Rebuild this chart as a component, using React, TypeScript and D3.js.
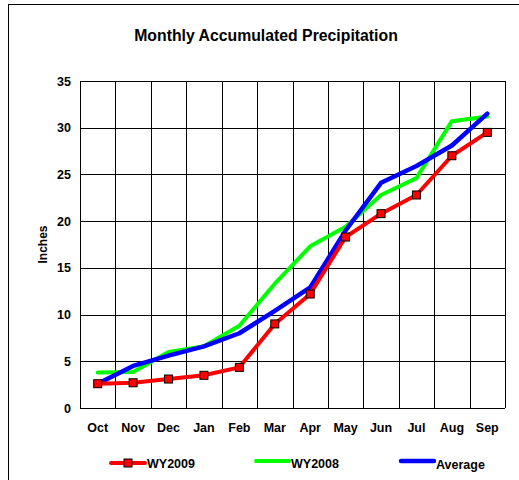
import React from "react";
import * as d3 from "d3";

const WIDTH = 519;
const HEIGHT = 480;

const months = ["Oct", "Nov", "Dec", "Jan", "Feb", "Mar", "Apr", "May", "Jun", "Jul", "Aug", "Sep"];
const wy2009 = [2.6, 2.7, 3.1, 3.5, 4.35, 9.0, 12.2, 18.3, 20.8, 22.8, 27.0, 29.5];
const wy2008 = [3.8, 3.85, 6.0, 6.6, 8.8, 13.3, 17.3, 19.4, 22.8, 24.6, 30.7, 31.2];
const average = [2.6, 4.5, 5.6, 6.6, 8.0, 10.4, 12.9, 19.0, 24.1, 25.9, 28.1, 31.5];
const yTicks = [0, 5, 10, 15, 20, 25, 30, 35];

const FONT = "'Liberation Sans', Arial, sans-serif";

export default function App() {
  const left = 80;
  const right = 505;
  const top = 81;
  const bottom = 408;

  const x = d3.scaleBand<string>().domain(months).range([left, right]);
  const y = d3.scaleLinear().domain([0, 35]).range([bottom, top]);

  const line = d3
    .line<number>()
    .x((_, i) => x(months[i])! + x.bandwidth() / 2)
    .y((d) => y(d));

  // vertical grid at category boundaries
  const vLines = months.map((m) => x(m)!).concat([right]);

  return (
    <svg
      width={WIDTH}
      height={HEIGHT}
      style={{ position: "absolute", left: 0, top: 0, background: "#fff" }}
      fontFamily={FONT}
    >
      <rect x={8.5} y={4.5} width={WIDTH + 10} height={HEIGHT + 10} fill="#fff" stroke="#000" strokeWidth={1} />

      <text x={266} y={41} textAnchor="middle" fontSize={15.8} fontWeight="bold">
        Monthly Accumulated Precipitation
      </text>

      {/* grid */}
      <g stroke="#000" strokeWidth={1} shapeRendering="crispEdges">
        {yTicks.map((t) => (
          <line key={"h" + t} x1={left} x2={right} y1={Math.round(y(t)) + 0.5} y2={Math.round(y(t)) + 0.5} />
        ))}
        {vLines.map((v, i) => (
          <line key={"v" + i} x1={Math.round(v) + 0.5} x2={Math.round(v) + 0.5} y1={top} y2={bottom} />
        ))}
      </g>

      {/* y ticks */}
      <g fontSize={12.5} fontWeight="bold" textAnchor="end">
        {yTicks.map((t) => (
          <text key={t} x={71} y={y(t) + 4.5}>
            {t}
          </text>
        ))}
      </g>
      <text
        transform={`translate(47,${(top + bottom) / 2}) rotate(-90)`}
        textAnchor="middle"
        fontSize={12}
        fontWeight="bold"
      >
        Inches
      </text>

      {/* x ticks */}
      <g fontSize={12.5} fontWeight="bold" textAnchor="middle">
        {months.map((m) => (
          <text key={m} x={x(m)! + x.bandwidth() / 2} y={432}>
            {m}
          </text>
        ))}
      </g>

      {/* series */}
      <path d={line(wy2008)!} fill="none" stroke="#00ff00" strokeWidth={4} strokeLinejoin="round" strokeLinecap="round" />
      <path d={line(average)!} fill="none" stroke="#0000ff" strokeWidth={4.5} strokeLinejoin="round" strokeLinecap="round" />
      <path d={line(wy2009)!} fill="none" stroke="#ff0000" strokeWidth={4} strokeLinejoin="round" strokeLinecap="round" />
      {wy2009.map((v, i) => (
        <rect
          key={i}
          x={x(months[i])! + x.bandwidth() / 2 - 4}
          y={y(v) - 4}
          width={8}
          height={8}
          fill="#ff0000"
          stroke="#000"
          strokeWidth={1}
        />
      ))}

      {/* legend */}
      <g fontSize={12.5} fontWeight="bold">
        <line x1={111} x2={145} y1={463} y2={463} stroke="#ff0000" strokeWidth={4} strokeLinecap="round" />
        <rect x={124} y={459} width={8} height={8} fill="#ff0000" stroke="#000" />
        <text x={147} y={468}>WY2009</text>
        <line x1={256} x2={289} y1={461} y2={461} stroke="#00ff00" strokeWidth={4} strokeLinecap="round" />
        <text x={291} y={468}>WY2008</text>
        <line x1={401} x2={434} y1={461} y2={461} stroke="#0000ff" strokeWidth={4.5} strokeLinecap="round" />
        <text x={436} y={469}>Average</text>
      </g>
    </svg>
  );
}
